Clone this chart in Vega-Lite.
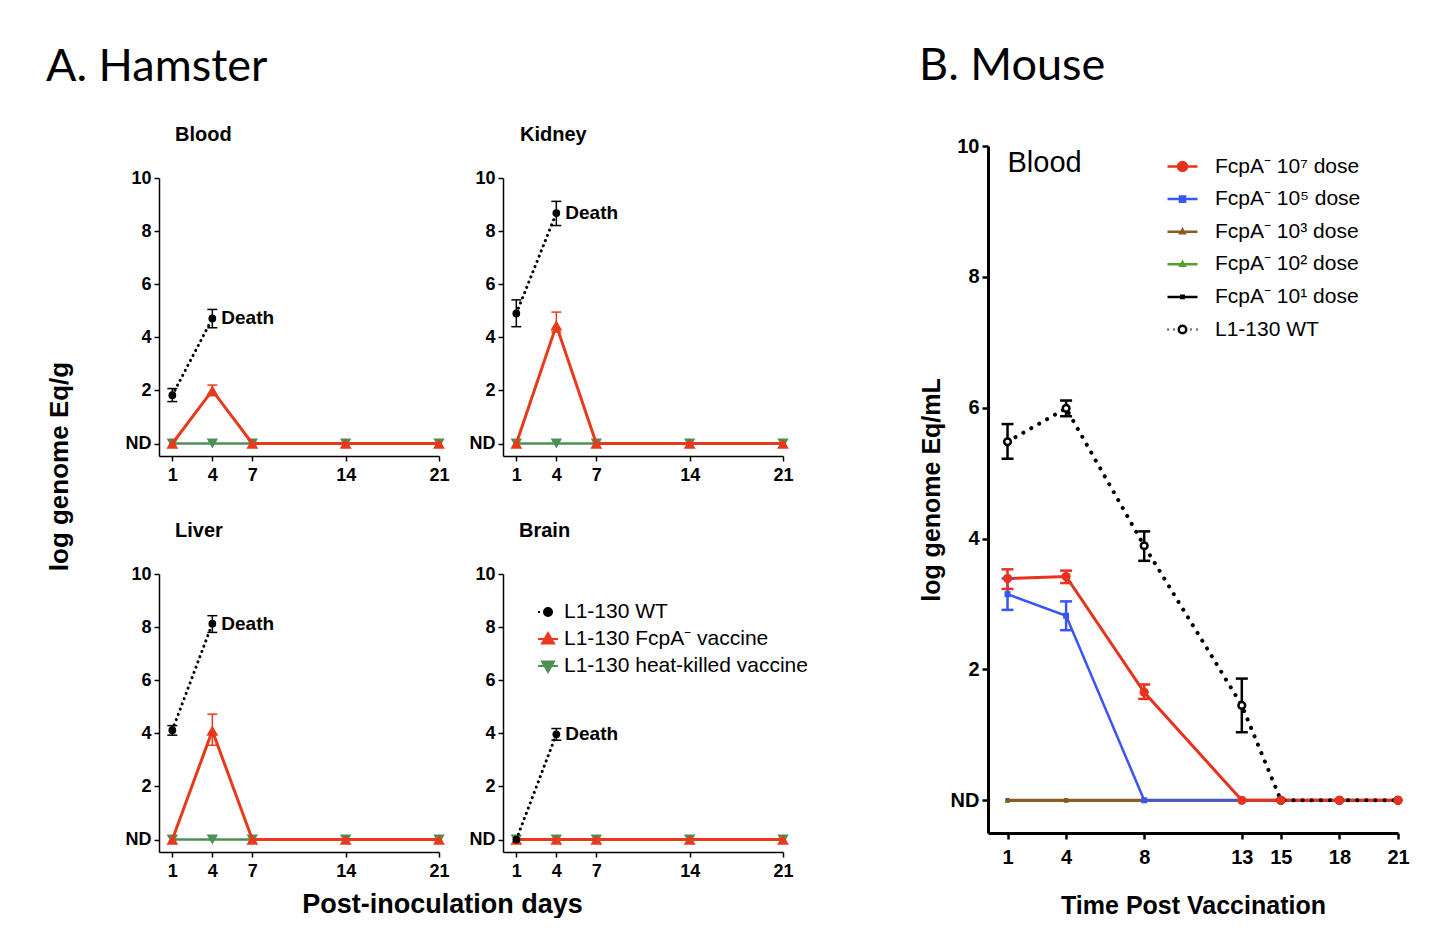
{
  "$schema": "https://vega.github.io/schema/vega-lite/v6.json",
  "padding": {"left": 46, "top": 44, "right": 0, "bottom": 0},
  "datasets": {
    "ham": [
      {"organ": "Blood", "g": "HK", "day": 1, "v": 0},
      {"organ": "Blood", "g": "HK", "day": 4, "v": 0},
      {"organ": "Blood", "g": "HK", "day": 7, "v": 0},
      {"organ": "Blood", "g": "HK", "day": 14, "v": 0},
      {"organ": "Blood", "g": "HK", "day": 21, "v": 0},
      {"organ": "Blood", "g": "FcpA", "day": 1, "v": 0},
      {"organ": "Blood", "g": "FcpA", "day": 4, "v": 2.0, "lo": 1.8, "hi": 2.2},
      {"organ": "Blood", "g": "FcpA", "day": 7, "v": 0},
      {"organ": "Blood", "g": "FcpA", "day": 14, "v": 0},
      {"organ": "Blood", "g": "FcpA", "day": 21, "v": 0},
      {"organ": "Blood", "g": "WT", "day": 1, "v": 1.82, "lo": 1.58, "hi": 2.07},
      {"organ": "Blood", "g": "WT", "day": 4, "v": 4.71, "lo": 4.36, "hi": 5.05},
      {"organ": "Kidney", "g": "HK", "day": 1, "v": 0},
      {"organ": "Kidney", "g": "HK", "day": 4, "v": 0},
      {"organ": "Kidney", "g": "HK", "day": 7, "v": 0},
      {"organ": "Kidney", "g": "HK", "day": 14, "v": 0},
      {"organ": "Kidney", "g": "HK", "day": 21, "v": 0},
      {"organ": "Kidney", "g": "FcpA", "day": 1, "v": 0},
      {"organ": "Kidney", "g": "FcpA", "day": 4, "v": 4.45, "lo": 4.2, "hi": 4.95},
      {"organ": "Kidney", "g": "FcpA", "day": 7, "v": 0},
      {"organ": "Kidney", "g": "FcpA", "day": 14, "v": 0},
      {"organ": "Kidney", "g": "FcpA", "day": 21, "v": 0},
      {"organ": "Kidney", "g": "WT", "day": 1, "v": 4.9, "lo": 4.4, "hi": 5.41},
      {"organ": "Kidney", "g": "WT", "day": 4, "v": 8.68, "lo": 8.21, "hi": 9.12},
      {"organ": "Liver", "g": "HK", "day": 1, "v": 0},
      {"organ": "Liver", "g": "HK", "day": 4, "v": 0},
      {"organ": "Liver", "g": "HK", "day": 7, "v": 0},
      {"organ": "Liver", "g": "HK", "day": 14, "v": 0},
      {"organ": "Liver", "g": "HK", "day": 21, "v": 0},
      {"organ": "Liver", "g": "FcpA", "day": 1, "v": 0},
      {"organ": "Liver", "g": "FcpA", "day": 4, "v": 4.1, "lo": 3.55, "hi": 4.72},
      {"organ": "Liver", "g": "FcpA", "day": 7, "v": 0},
      {"organ": "Liver", "g": "FcpA", "day": 14, "v": 0},
      {"organ": "Liver", "g": "FcpA", "day": 21, "v": 0},
      {"organ": "Liver", "g": "WT", "day": 1, "v": 4.12, "lo": 3.93, "hi": 4.29},
      {"organ": "Liver", "g": "WT", "day": 4, "v": 8.13, "lo": 7.8, "hi": 8.43},
      {"organ": "Brain", "g": "HK", "day": 1, "v": 0},
      {"organ": "Brain", "g": "HK", "day": 4, "v": 0},
      {"organ": "Brain", "g": "HK", "day": 7, "v": 0},
      {"organ": "Brain", "g": "HK", "day": 14, "v": 0},
      {"organ": "Brain", "g": "HK", "day": 21, "v": 0},
      {"organ": "Brain", "g": "FcpA", "day": 1, "v": 0},
      {"organ": "Brain", "g": "FcpA", "day": 4, "v": 0},
      {"organ": "Brain", "g": "FcpA", "day": 7, "v": 0},
      {"organ": "Brain", "g": "FcpA", "day": 14, "v": 0},
      {"organ": "Brain", "g": "FcpA", "day": 21, "v": 0},
      {"organ": "Brain", "g": "WT", "day": 1, "v": 0},
      {"organ": "Brain", "g": "WT", "day": 4, "v": 3.96, "lo": 3.74, "hi": 4.18}
    ],
    "mouse": [
      {"g": "D1", "day": 1, "v": 0}, {"g": "D1", "day": 4, "v": 0}, {"g": "D1", "day": 8, "v": 0}, {"g": "D1", "day": 13, "v": 0}, {"g": "D1", "day": 15, "v": 0}, {"g": "D1", "day": 18, "v": 0}, {"g": "D1", "day": 21, "v": 0},
      {"g": "D2", "day": 1, "v": 0}, {"g": "D2", "day": 4, "v": 0}, {"g": "D2", "day": 8, "v": 0}, {"g": "D2", "day": 13, "v": 0}, {"g": "D2", "day": 15, "v": 0}, {"g": "D2", "day": 18, "v": 0}, {"g": "D2", "day": 21, "v": 0},
      {"g": "D3", "day": 1, "v": 0}, {"g": "D3", "day": 4, "v": 0}, {"g": "D3", "day": 8, "v": 0}, {"g": "D3", "day": 13, "v": 0}, {"g": "D3", "day": 15, "v": 0}, {"g": "D3", "day": 18, "v": 0}, {"g": "D3", "day": 21, "v": 0},
      {"g": "D5", "day": 1, "v": 3.15, "lo": 2.91, "hi": 3.39}, {"g": "D5", "day": 4, "v": 2.82, "lo": 2.6, "hi": 3.04}, {"g": "D5", "day": 8, "v": 0}, {"g": "D5", "day": 13, "v": 0}, {"g": "D5", "day": 15, "v": 0}, {"g": "D5", "day": 18, "v": 0}, {"g": "D5", "day": 21, "v": 0},
      {"g": "D7", "day": 1, "v": 3.39, "lo": 3.23, "hi": 3.53}, {"g": "D7", "day": 4, "v": 3.42, "lo": 3.32, "hi": 3.51}, {"g": "D7", "day": 8, "v": 1.65, "lo": 1.55, "hi": 1.77}, {"g": "D7", "day": 13, "v": 0}, {"g": "D7", "day": 15, "v": 0}, {"g": "D7", "day": 18, "v": 0}, {"g": "D7", "day": 21, "v": 0},
      {"g": "WT", "day": 1, "v": 5.48, "lo": 5.22, "hi": 5.75}, {"g": "WT", "day": 4, "v": 5.99, "lo": 5.87, "hi": 6.11}, {"g": "WT", "day": 8, "v": 3.89, "lo": 3.66, "hi": 4.11}, {"g": "WT", "day": 13, "v": 1.45, "lo": 1.04, "hi": 1.86}, {"g": "WT", "day": 15, "v": 0}, {"g": "WT", "day": 18, "v": 0}, {"g": "WT", "day": 21, "v": 0}
    ]
  },
  "hconcat": [
    {
      "title": {"text": "A. Hamster", "font": "Lato", "fontSize": 45, "fontWeight": "normal", "anchor": "start", "offset": 35, "color": "#000"},
      "columns": 2,
      "spacing": {"row": 118, "column": 64},
      "bounds": "flush",
      "resolve": {"scale": {"color": "independent", "fill": "independent", "stroke": "independent", "shape": "independent"}},
      "concat": [
        {
          "width": 280, "height": 278,
          "title": {"text": "Blood", "anchor": "start", "frame": "group", "dx": 16, "offset": 24, "fontSize": 20, "fontWeight": "bold", "font": "Liberation Sans", "color": "#000"},
          "data": {"name": "ham"},
          "transform": [{"filter": "datum.organ == 'Blood'"}],
          "encoding": {
            "x": {"field": "day", "type": "quantitative", "scale": {"domain": [0, 21], "nice": false, "zero": false}, "axis": {"values": [1, 4, 7, 14, 21], "title": null, "labelFontSize": 18, "domainWidth": 1.5, "tickWidth": 1.5, "tickSize": 5, "labelPadding": 5, "labelFlush": false, "labelOverlap": false}},
            "y": {"field": "v", "type": "quantitative", "scale": {"domain": [-0.47, 10], "nice": false, "zero": false}, "axis": {"values": [0, 2, 4, 6, 8, 10], "labelExpr": "datum.value == 0 ? 'ND' : datum.label", "title": "log genome Eq/g", "titleY": 288, "titleFontSize": 26, "titlePadding": 53, "titleAlign": "center", "labelFontSize": 18, "domainWidth": 1.5, "tickWidth": 1.5, "tickSize": 5, "labelPadding": 3, "labelFlush": false, "labelOverlap": false}}
          },
          "layer": [
            {"transform": [{"filter": "datum.g == 'HK'"}], "mark": {"type": "line", "color": "#4d8f55", "strokeWidth": 2.5}},
            {"transform": [{"filter": "datum.g == 'HK'"}], "mark": {"type": "point", "shape": "triangle-down", "size": 130, "filled": true, "color": "#4d8f55", "opacity": 1}},
            {"transform": [{"filter": "datum.g == 'FcpA'"}], "mark": {"type": "line", "color": "#e8391c", "strokeWidth": 3}},
            {"transform": [{"filter": "datum.lo != null"}], "mark": {"type": "rule", "strokeWidth": 1.5}, "encoding": {"y": {"field": "lo", "type": "quantitative"}, "y2": {"field": "hi"}, "color": {"field": "g", "type": "nominal", "scale": {"domain": ["WT", "FcpA"], "range": ["#000000", "#e8391c"]}, "legend": null}}},
            {"transform": [{"filter": "datum.lo != null"}], "mark": {"type": "point", "shape": "M-1,0H1", "size": 100, "filled": false, "strokeWidth": 1.5, "opacity": 1}, "encoding": {"y": {"field": "hi", "type": "quantitative"}, "color": {"field": "g", "type": "nominal", "scale": {"domain": ["WT", "FcpA"], "range": ["#000000", "#e8391c"]}, "legend": null}}},
            {"transform": [{"filter": "datum.lo != null"}], "mark": {"type": "point", "shape": "M-1,0H1", "size": 100, "filled": false, "strokeWidth": 1.5, "opacity": 1}, "encoding": {"y": {"field": "lo", "type": "quantitative"}, "color": {"field": "g", "type": "nominal", "scale": {"domain": ["WT", "FcpA"], "range": ["#000000", "#e8391c"]}, "legend": null}}},
            {"transform": [{"filter": "datum.g == 'FcpA'"}], "mark": {"type": "point", "shape": "triangle-up", "size": 140, "filled": true, "color": "#e8391c", "opacity": 1}},
            {"transform": [{"filter": "datum.g == 'WT'"}], "mark": {"type": "line", "color": "#000", "strokeWidth": 3, "strokeDash": [0.1, 5.5], "strokeCap": "round"}},
            {"transform": [{"filter": "datum.g == 'WT'"}], "mark": {"type": "point", "shape": "circle", "size": 60, "filled": true, "color": "#000", "opacity": 1}},
            {"transform": [{"filter": "datum.g == 'WT' && datum.day == 4"}], "mark": {"type": "text", "text": "Death", "align": "left", "baseline": "middle", "dx": 9, "fontSize": 19, "fontWeight": "bold", "font": "Liberation Sans", "color": "#000"}}
          ]
        },
        {
          "width": 280, "height": 278,
          "title": {"text": "Kidney", "anchor": "start", "frame": "group", "dx": 17, "offset": 24, "fontSize": 20, "fontWeight": "bold", "font": "Liberation Sans", "color": "#000"},
          "data": {"name": "ham"},
          "transform": [{"filter": "datum.organ == 'Kidney'"}],
          "encoding": {
            "x": {"field": "day", "type": "quantitative", "scale": {"domain": [0, 21], "nice": false, "zero": false}, "axis": {"values": [1, 4, 7, 14, 21], "title": null, "labelFontSize": 18, "domainWidth": 1.5, "tickWidth": 1.5, "tickSize": 5, "labelPadding": 5, "labelFlush": false, "labelOverlap": false}},
            "y": {"field": "v", "type": "quantitative", "scale": {"domain": [-0.47, 10], "nice": false, "zero": false}, "axis": {"values": [0, 2, 4, 6, 8, 10], "labelExpr": "datum.value == 0 ? 'ND' : datum.label", "title": null, "labelFontSize": 18, "domainWidth": 1.5, "tickWidth": 1.5, "tickSize": 5, "labelPadding": 3, "labelFlush": false, "labelOverlap": false}}
          },
          "layer": [
            {"transform": [{"filter": "datum.g == 'HK'"}], "mark": {"type": "line", "color": "#4d8f55", "strokeWidth": 2.5}},
            {"transform": [{"filter": "datum.g == 'HK'"}], "mark": {"type": "point", "shape": "triangle-down", "size": 130, "filled": true, "color": "#4d8f55", "opacity": 1}},
            {"transform": [{"filter": "datum.g == 'FcpA'"}], "mark": {"type": "line", "color": "#e8391c", "strokeWidth": 3}},
            {"transform": [{"filter": "datum.lo != null"}], "mark": {"type": "rule", "strokeWidth": 1.5}, "encoding": {"y": {"field": "lo", "type": "quantitative"}, "y2": {"field": "hi"}, "color": {"field": "g", "type": "nominal", "scale": {"domain": ["WT", "FcpA"], "range": ["#000000", "#e8391c"]}, "legend": null}}},
            {"transform": [{"filter": "datum.lo != null"}], "mark": {"type": "point", "shape": "M-1,0H1", "size": 100, "filled": false, "strokeWidth": 1.5, "opacity": 1}, "encoding": {"y": {"field": "hi", "type": "quantitative"}, "color": {"field": "g", "type": "nominal", "scale": {"domain": ["WT", "FcpA"], "range": ["#000000", "#e8391c"]}, "legend": null}}},
            {"transform": [{"filter": "datum.lo != null"}], "mark": {"type": "point", "shape": "M-1,0H1", "size": 100, "filled": false, "strokeWidth": 1.5, "opacity": 1}, "encoding": {"y": {"field": "lo", "type": "quantitative"}, "color": {"field": "g", "type": "nominal", "scale": {"domain": ["WT", "FcpA"], "range": ["#000000", "#e8391c"]}, "legend": null}}},
            {"transform": [{"filter": "datum.g == 'FcpA'"}], "mark": {"type": "point", "shape": "triangle-up", "size": 140, "filled": true, "color": "#e8391c", "opacity": 1}},
            {"transform": [{"filter": "datum.g == 'WT'"}], "mark": {"type": "line", "color": "#000", "strokeWidth": 3, "strokeDash": [0.1, 5.5], "strokeCap": "round"}},
            {"transform": [{"filter": "datum.g == 'WT'"}], "mark": {"type": "point", "shape": "circle", "size": 60, "filled": true, "color": "#000", "opacity": 1}},
            {"transform": [{"filter": "datum.g == 'WT' && datum.day == 4"}], "mark": {"type": "text", "text": "Death", "align": "left", "baseline": "middle", "dx": 9, "fontSize": 19, "fontWeight": "bold", "font": "Liberation Sans", "color": "#000"}}
          ]
        },
        {
          "width": 280, "height": 278,
          "title": {"text": "Liver", "anchor": "start", "frame": "group", "dx": 16, "offset": 24, "fontSize": 20, "fontWeight": "bold", "font": "Liberation Sans", "color": "#000"},
          "data": {"name": "ham"},
          "transform": [{"filter": "datum.organ == 'Liver'"}],
          "encoding": {
            "x": {"field": "day", "type": "quantitative", "scale": {"domain": [0, 21], "nice": false, "zero": false}, "axis": {"values": [1, 4, 7, 14, 21], "title": "Post-inoculation days", "titleX": 283, "titleAlign": "center", "titleFontSize": 27, "titlePadding": 11, "labelFontSize": 18, "domainWidth": 1.5, "tickWidth": 1.5, "tickSize": 5, "labelPadding": 5, "labelFlush": false, "labelOverlap": false}},
            "y": {"field": "v", "type": "quantitative", "scale": {"domain": [-0.47, 10], "nice": false, "zero": false}, "axis": {"values": [0, 2, 4, 6, 8, 10], "labelExpr": "datum.value == 0 ? 'ND' : datum.label", "title": null, "labelFontSize": 18, "domainWidth": 1.5, "tickWidth": 1.5, "tickSize": 5, "labelPadding": 3, "labelFlush": false, "labelOverlap": false}}
          },
          "layer": [
            {"transform": [{"filter": "datum.g == 'HK'"}], "mark": {"type": "line", "color": "#4d8f55", "strokeWidth": 2.5}},
            {"transform": [{"filter": "datum.g == 'HK'"}], "mark": {"type": "point", "shape": "triangle-down", "size": 130, "filled": true, "color": "#4d8f55", "opacity": 1}},
            {"transform": [{"filter": "datum.g == 'FcpA'"}], "mark": {"type": "line", "color": "#e8391c", "strokeWidth": 3}},
            {"transform": [{"filter": "datum.lo != null"}], "mark": {"type": "rule", "strokeWidth": 1.5}, "encoding": {"y": {"field": "lo", "type": "quantitative"}, "y2": {"field": "hi"}, "color": {"field": "g", "type": "nominal", "scale": {"domain": ["WT", "FcpA"], "range": ["#000000", "#e8391c"]}, "legend": null}}},
            {"transform": [{"filter": "datum.lo != null"}], "mark": {"type": "point", "shape": "M-1,0H1", "size": 100, "filled": false, "strokeWidth": 1.5, "opacity": 1}, "encoding": {"y": {"field": "hi", "type": "quantitative"}, "color": {"field": "g", "type": "nominal", "scale": {"domain": ["WT", "FcpA"], "range": ["#000000", "#e8391c"]}, "legend": null}}},
            {"transform": [{"filter": "datum.lo != null"}], "mark": {"type": "point", "shape": "M-1,0H1", "size": 100, "filled": false, "strokeWidth": 1.5, "opacity": 1}, "encoding": {"y": {"field": "lo", "type": "quantitative"}, "color": {"field": "g", "type": "nominal", "scale": {"domain": ["WT", "FcpA"], "range": ["#000000", "#e8391c"]}, "legend": null}}},
            {"transform": [{"filter": "datum.g == 'FcpA'"}], "mark": {"type": "point", "shape": "triangle-up", "size": 140, "filled": true, "color": "#e8391c", "opacity": 1}},
            {"transform": [{"filter": "datum.g == 'WT'"}], "mark": {"type": "line", "color": "#000", "strokeWidth": 3, "strokeDash": [0.1, 5.5], "strokeCap": "round"}},
            {"transform": [{"filter": "datum.g == 'WT'"}], "mark": {"type": "point", "shape": "circle", "size": 60, "filled": true, "color": "#000", "opacity": 1}},
            {"transform": [{"filter": "datum.g == 'WT' && datum.day == 4"}], "mark": {"type": "text", "text": "Death", "align": "left", "baseline": "middle", "dx": 9, "fontSize": 19, "fontWeight": "bold", "font": "Liberation Sans", "color": "#000"}}
          ]
        },
        {
          "width": 280, "height": 278,
          "title": {"text": "Brain", "anchor": "start", "frame": "group", "dx": 16, "offset": 24, "fontSize": 20, "fontWeight": "bold", "font": "Liberation Sans", "color": "#000"},
          "data": {"name": "ham"},
          "transform": [{"filter": "datum.organ == 'Brain'"}],
          "encoding": {
            "x": {"field": "day", "type": "quantitative", "scale": {"domain": [0, 21], "nice": false, "zero": false}, "axis": {"values": [1, 4, 7, 14, 21], "title": null, "labelFontSize": 18, "domainWidth": 1.5, "tickWidth": 1.5, "tickSize": 5, "labelPadding": 5, "labelFlush": false, "labelOverlap": false}},
            "y": {"field": "v", "type": "quantitative", "scale": {"domain": [-0.47, 10], "nice": false, "zero": false}, "axis": {"values": [0, 2, 4, 6, 8, 10], "labelExpr": "datum.value == 0 ? 'ND' : datum.label", "title": null, "labelFontSize": 18, "domainWidth": 1.5, "tickWidth": 1.5, "tickSize": 5, "labelPadding": 3, "labelFlush": false, "labelOverlap": false}}
          },
          "layer": [
            {"transform": [{"filter": "datum.g == 'HK'"}], "mark": {"type": "line", "color": "#4d8f55", "strokeWidth": 2.5}},
            {"transform": [{"filter": "datum.g == 'HK'"}], "mark": {"type": "point", "shape": "triangle-down", "size": 130, "filled": true, "color": "#4d8f55", "opacity": 1}},
            {"transform": [{"filter": "datum.g == 'FcpA'"}], "mark": {"type": "line", "color": "#e8391c", "strokeWidth": 3}},
            {"transform": [{"filter": "datum.lo != null"}], "mark": {"type": "rule", "strokeWidth": 1.5}, "encoding": {"y": {"field": "lo", "type": "quantitative"}, "y2": {"field": "hi"}, "color": {"field": "g", "type": "nominal", "scale": {"domain": ["WT", "FcpA"], "range": ["#000000", "#e8391c"]}, "legend": null}}},
            {"transform": [{"filter": "datum.lo != null"}], "mark": {"type": "point", "shape": "M-1,0H1", "size": 100, "filled": false, "strokeWidth": 1.5, "opacity": 1}, "encoding": {"y": {"field": "hi", "type": "quantitative"}, "color": {"field": "g", "type": "nominal", "scale": {"domain": ["WT", "FcpA"], "range": ["#000000", "#e8391c"]}, "legend": null}}},
            {"transform": [{"filter": "datum.lo != null"}], "mark": {"type": "point", "shape": "M-1,0H1", "size": 100, "filled": false, "strokeWidth": 1.5, "opacity": 1}, "encoding": {"y": {"field": "lo", "type": "quantitative"}, "color": {"field": "g", "type": "nominal", "scale": {"domain": ["WT", "FcpA"], "range": ["#000000", "#e8391c"]}, "legend": null}}},
            {"transform": [{"filter": "datum.g == 'FcpA'"}], "mark": {"type": "point", "shape": "triangle-up", "size": 140, "filled": true, "color": "#e8391c", "opacity": 1}},
            {"transform": [{"filter": "datum.g == 'WT'"}], "mark": {"type": "line", "color": "#000", "strokeWidth": 3, "strokeDash": [0.1, 5.5], "strokeCap": "round"}},
            {"transform": [{"filter": "datum.g == 'WT'"}], "mark": {"type": "point", "shape": "circle", "size": 60, "filled": true, "color": "#000", "opacity": 1}},
            {"transform": [{"filter": "datum.g == 'WT' && datum.day == 4"}], "mark": {"type": "text", "text": "Death", "align": "left", "baseline": "middle", "dx": 9, "fontSize": 19, "fontWeight": "bold", "font": "Liberation Sans", "color": "#000"}},
            {
              "transform": [{"filter": "false"}],
              "mark": {"type": "point", "filled": true, "opacity": 1, "size": 400, "strokeWidth": 2},
              "encoding": {
                "fill": {"field": "series", "type": "nominal", "scale": {"domain": ["L1-130 WT", "L1-130 FcpA⁻ vaccine", "L1-130 heat-killed vaccine"], "range": ["#000000", "#e8391c", "#4d8f55"]}, "legend": {"orient": "none", "legendX": 34, "legendY": 27, "title": null, "padding": 0, "labelFont": "Liberation Sans", "labelFontSize": 21, "labelColor": "#000", "labelOffset": 5, "rowPadding": 6, "symbolSize": 400, "symbolStrokeWidth": 2, "labelLimit": 400}},
                "stroke": {"field": "series", "type": "nominal", "scale": {"domain": ["L1-130 WT", "L1-130 FcpA⁻ vaccine", "L1-130 heat-killed vaccine"], "range": ["#000000", "#e8391c", "#4d8f55"]}, "legend": {"orient": "none", "legendX": 34, "legendY": 27, "title": null, "padding": 0, "labelFont": "Liberation Sans", "labelFontSize": 21, "labelColor": "#000", "labelOffset": 5, "rowPadding": 6, "symbolSize": 400, "symbolStrokeWidth": 2, "labelLimit": 400}},
                "shape": {"field": "series", "type": "nominal", "scale": {"domain": ["L1-130 WT", "L1-130 FcpA⁻ vaccine", "L1-130 heat-killed vaccine"], "range": ["M-1,0H-0.8M0.4,0A0.4,0.4,0,1,1,-0.4,0A0.4,0.4,0,1,1,0.4,0Z", "M-1,0H1M0,-0.6L0.6,0.45L-0.6,0.45Z", "M-1,0H1M0,0.6L0.6,-0.45L-0.6,-0.45Z"]}, "legend": {"orient": "none", "legendX": 34, "legendY": 27, "title": null, "padding": 0, "labelFont": "Liberation Sans", "labelFontSize": 21, "labelColor": "#000", "labelOffset": 5, "rowPadding": 6, "symbolSize": 400, "symbolStrokeWidth": 2, "labelLimit": 400}}
              }
            }
          ]
        }
      ]
    },
    {
      "width": 410, "height": 655,
      "title": {"text": "B. Mouse", "font": "Lato", "fontSize": 45, "fontWeight": "normal", "anchor": "start", "offset": 47, "color": "#000"},
      "data": {"name": "mouse"},
      "encoding": {
        "x": {"field": "day", "type": "quantitative", "scale": {"domain": [0, 21], "nice": false, "zero": false}, "axis": {"values": [1, 4, 8, 13, 15, 18, 21], "title": "Time Post Vaccination", "titleFontSize": 25, "titlePadding": 26, "labelFontSize": 20, "domainWidth": 3, "tickWidth": 2.5, "tickSize": 6, "labelPadding": 8, "labelFlush": false, "labelOverlap": false}},
        "y": {"field": "v", "type": "quantitative", "scale": {"domain": [-0.5, 10], "range": [655, -32], "nice": false, "zero": false}, "axis": {"values": [0, 2, 4, 6, 8, 10], "labelExpr": "datum.value == 0 ? 'ND' : datum.label", "title": "log genome Eq/mL", "titleFontSize": 25, "titlePadding": 6, "labelFontSize": 20, "domainWidth": 3, "tickWidth": 2.5, "tickSize": 6, "labelPadding": 3, "labelFlush": false, "labelOverlap": false}}
      },
      "layer": [
        {"transform": [{"filter": "datum.g == 'D1'"}], "mark": {"type": "line", "color": "#000", "strokeWidth": 2.5}},
        {"transform": [{"filter": "datum.g == 'D1'"}], "mark": {"type": "point", "shape": "square", "size": 16, "filled": true, "color": "#000", "opacity": 1}},
        {"transform": [{"filter": "datum.g == 'D2'"}], "mark": {"type": "line", "color": "#52a02e", "strokeWidth": 2.5}},
        {"transform": [{"filter": "datum.g == 'D2'"}], "mark": {"type": "point", "shape": "triangle-up", "size": 25, "filled": true, "color": "#52a02e", "opacity": 1}},
        {"transform": [{"filter": "datum.g == 'D3'"}], "mark": {"type": "line", "color": "#8b5a1e", "strokeWidth": 3}},
        {"transform": [{"filter": "datum.g == 'D3'"}], "mark": {"type": "point", "shape": "triangle-up", "size": 25, "filled": true, "color": "#8b5a1e", "opacity": 1}},
        {"transform": [{"filter": "datum.g == 'D5'"}], "mark": {"type": "line", "color": "#3b55f0", "strokeWidth": 2.5}},
        {"transform": [{"filter": "datum.g == 'D5'"}], "mark": {"type": "point", "shape": "square", "size": 36, "filled": true, "color": "#3b55f0", "opacity": 1}},
        {"transform": [{"filter": "datum.g == 'D7'"}], "mark": {"type": "line", "color": "#e8321e", "strokeWidth": 3}},
        {"transform": [{"filter": "datum.lo != null"}], "mark": {"type": "rule", "strokeWidth": 2.5}, "encoding": {"y": {"field": "lo", "type": "quantitative"}, "y2": {"field": "hi"}, "color": {"field": "g", "type": "nominal", "scale": {"domain": ["WT", "D7", "D5"], "range": ["#000000", "#e8321e", "#3b55f0"]}, "legend": null}}},
        {"transform": [{"filter": "datum.lo != null"}], "mark": {"type": "point", "shape": "M-1,0H1", "size": 144, "filled": false, "strokeWidth": 2.5, "opacity": 1}, "encoding": {"y": {"field": "hi", "type": "quantitative"}, "color": {"field": "g", "type": "nominal", "scale": {"domain": ["WT", "D7", "D5"], "range": ["#000000", "#e8321e", "#3b55f0"]}, "legend": null}}},
        {"transform": [{"filter": "datum.lo != null"}], "mark": {"type": "point", "shape": "M-1,0H1", "size": 144, "filled": false, "strokeWidth": 2.5, "opacity": 1}, "encoding": {"y": {"field": "lo", "type": "quantitative"}, "color": {"field": "g", "type": "nominal", "scale": {"domain": ["WT", "D7", "D5"], "range": ["#000000", "#e8321e", "#3b55f0"]}, "legend": null}}},
        {"transform": [{"filter": "datum.g == 'WT'"}], "mark": {"type": "line", "color": "#000", "strokeWidth": 4, "strokeDash": [0.1, 9], "strokeCap": "round"}},
        {"transform": [{"filter": "datum.g == 'WT'"}], "mark": {"type": "point", "shape": "circle", "size": 45, "filled": false, "fill": "#ffffff", "stroke": "#000", "strokeWidth": 2.5, "opacity": 1}},
        {"transform": [{"filter": "datum.g == 'D7'"}], "mark": {"type": "point", "shape": "circle", "size": 85, "filled": true, "color": "#e8321e", "opacity": 1}},
        {"data": {"values": [{"label": "Blood", "day": 1, "v": 9.74}]}, "mark": {"type": "text", "align": "left", "baseline": "middle", "fontSize": 29, "font": "Liberation Sans", "color": "#000"}, "encoding": {"text": {"field": "label", "type": "nominal"}}},
        {
          "transform": [{"filter": "false"}],
          "mark": {"type": "point", "filled": true, "opacity": 1, "size": 900, "strokeWidth": 2.5},
          "encoding": {
            "fill": {"field": "series", "type": "nominal", "scale": {"domain": ["FcpA⁻ 10⁷ dose", "FcpA⁻ 10⁵ dose", "FcpA⁻ 10³ dose", "FcpA⁻ 10² dose", "FcpA⁻ 10¹ dose", "L1-130 WT"], "range": ["#e8321e", "#3b55f0", "#8b5a1e", "#52a02e", "#000000", "#ffffff"]}, "legend": {"orient": "none", "legendX": 178, "legendY": -28, "title": null, "padding": 0, "labelFont": "Liberation Sans", "labelFontSize": 21, "labelColor": "#000", "labelOffset": 16, "rowPadding": 5.6, "symbolSize": 900, "symbolStrokeWidth": 2.5, "labelLimit": 400}},
            "stroke": {"field": "series", "type": "nominal", "scale": {"domain": ["FcpA⁻ 10⁷ dose", "FcpA⁻ 10⁵ dose", "FcpA⁻ 10³ dose", "FcpA⁻ 10² dose", "FcpA⁻ 10¹ dose", "L1-130 WT"], "range": ["#e8321e", "#3b55f0", "#8b5a1e", "#52a02e", "#000000", "#000000"]}, "legend": {"orient": "none", "legendX": 178, "legendY": -28, "title": null, "padding": 0, "labelFont": "Liberation Sans", "labelFontSize": 21, "labelColor": "#000", "labelOffset": 16, "rowPadding": 5.6, "symbolSize": 900, "symbolStrokeWidth": 2.5, "labelLimit": 400}},
            "shape": {"field": "series", "type": "nominal", "scale": {"domain": ["FcpA⁻ 10⁷ dose", "FcpA⁻ 10⁵ dose", "FcpA⁻ 10³ dose", "FcpA⁻ 10² dose", "FcpA⁻ 10¹ dose", "L1-130 WT"], "range": ["M-1,0H1M0.3,0A0.3,0.3,0,1,1,-0.3,0A0.3,0.3,0,1,1,0.3,0Z", "M-1,0H1M-0.17,-0.17H0.17V0.17H-0.17Z", "M-1,0H1M0,-0.14L0.14,0.1H-0.14Z", "M-1,0H1M0,-0.14L0.14,0.1H-0.14Z", "M-1,0H1M-0.08,-0.08H0.08V0.08H-0.08Z", "M-1,0H-0.93M-0.6,0H-0.53M0.53,0H0.6M0.93,0H1M0.25,0A0.25,0.25,0,1,1,-0.25,0A0.25,0.25,0,1,1,0.25,0Z"]}, "legend": {"orient": "none", "legendX": 178, "legendY": -28, "title": null, "padding": 0, "labelFont": "Liberation Sans", "labelFontSize": 21, "labelColor": "#000", "labelOffset": 16, "rowPadding": 5.6, "symbolSize": 900, "symbolStrokeWidth": 2.5, "labelLimit": 400}}
          }
        }
      ]
    }
  ],
  "spacing": 111,
  "resolve": {"scale": {"color": "independent", "fill": "independent", "stroke": "independent", "shape": "independent"}},
  "config": {
    "view": {"stroke": null},
    "font": "Liberation Sans",
    "background": "#ffffff",
    "axis": {"grid": false, "domainColor": "#000", "tickColor": "#000", "labelColor": "#000", "labelFontWeight": "bold", "labelFont": "Liberation Sans", "titleColor": "#000", "titleFontWeight": "bold", "titleFont": "Liberation Sans"}
  }
}
